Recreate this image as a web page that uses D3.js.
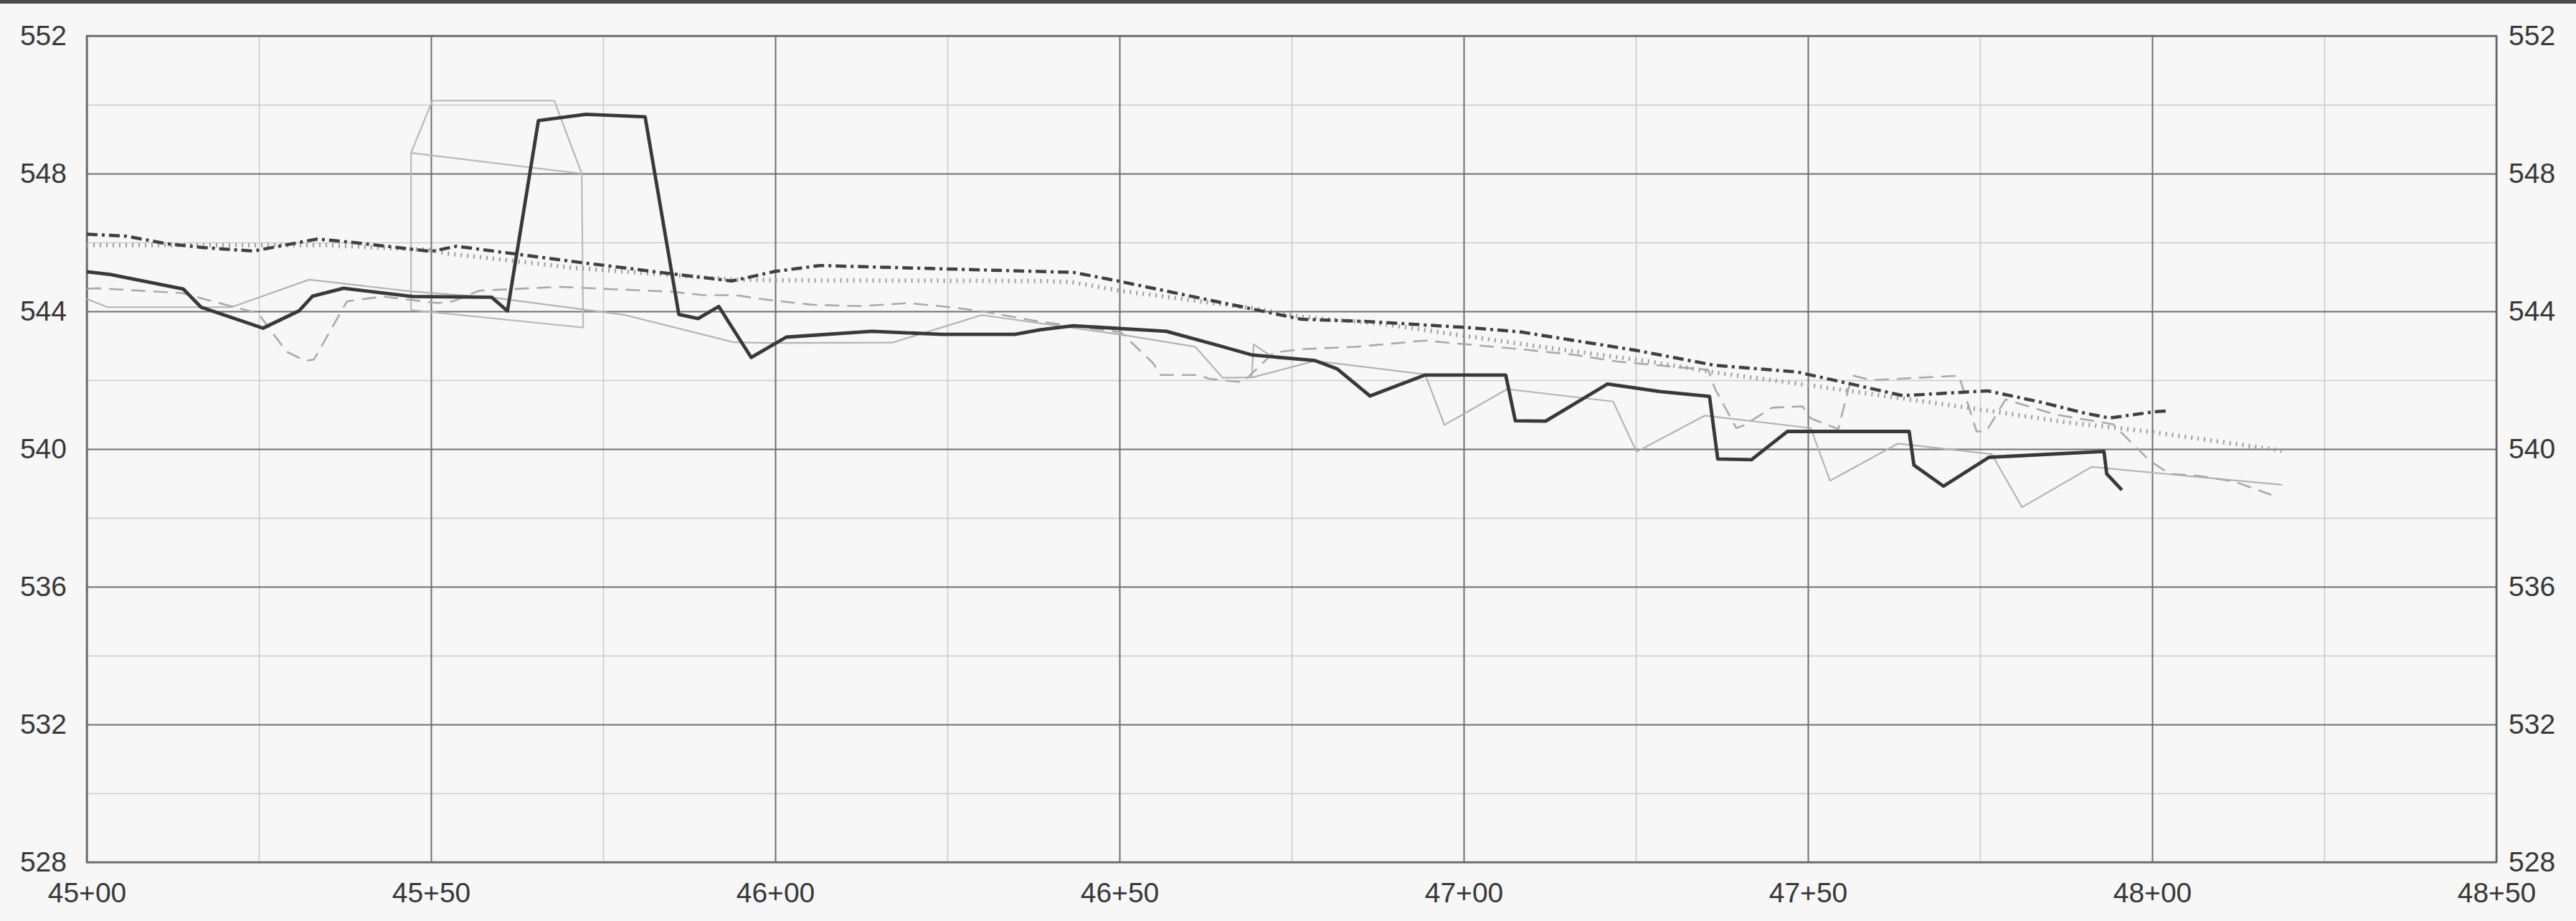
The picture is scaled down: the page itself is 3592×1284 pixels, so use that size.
<!DOCTYPE html>
<html>
<head>
<meta charset="utf-8">
<script src="https://cdn.jsdelivr.net/npm/d3@7"></script>
<style>
  html, body { margin: 0; padding: 0; background: #f6f7f6; }
  svg { display: block; }
</style>
</head>
<body>
<svg id="chart" width="3592" height="1284"></svg>
<script>
// ---------- data (station in feet, elevation) ----------
const stationTicks = [4500, 4550, 4600, 4650, 4700, 4750, 4800, 4850];
const stationMinor = [4525, 4575, 4625, 4675, 4725, 4775, 4825];
const elevTicks = [528, 532, 536, 540, 544, 548, 552];
const elevMinor = [530, 534, 538, 542, 546, 550];

// thick dark solid profile
const mainProfile = [
  [4500, 545.15], [4503.4, 545.07], [4514, 544.65], [4516.6, 544.12], [4525.6, 543.51],
  [4530.8, 544.01], [4532.8, 544.44], [4537.3, 544.67], [4547.3, 544.43], [4558.8, 544.41],
  [4561.1, 544.01], [4565.6, 549.54], [4572.5, 549.72], [4581.1, 549.65], [4586, 543.91],
  [4588.8, 543.79], [4591.8, 544.14], [4596.5, 542.66], [4601.6, 543.25], [4614, 543.42],
  [4624.2, 543.33], [4634.8, 543.33], [4638.4, 543.46], [4643.3, 543.58], [4656.8, 543.42],
  [4664.5, 543.0], [4669.3, 542.73], [4678.4, 542.57], [4681.6, 542.33], [4686.4, 541.54],
  [4694.4, 542.15], [4706.1, 542.15], [4707.5, 540.82], [4711.9, 540.81], [4720.9, 541.89],
  [4728.5, 541.67], [4735.7, 541.53], [4736.9, 539.71], [4741.8, 539.69], [4747, 540.51],
  [4764.7, 540.51], [4765.4, 539.53], [4769.7, 538.92], [4776.3, 539.76], [4793, 539.93],
  [4793.4, 539.28], [4795.6, 538.81]
];

// dash-dot dark line
const dashDotProfile = [
  [4500, 546.24], [4505.8, 546.18], [4511.7, 545.96], [4517, 545.85], [4524.2, 545.75],
  [4533.5, 546.1], [4539.6, 545.98], [4550, 545.74], [4553.7, 545.89], [4570.9, 545.44],
  [4584.9, 545.09], [4593.7, 544.88], [4600, 545.16], [4606.5, 545.33], [4643.3, 545.13],
  [4649.8, 544.88], [4669.7, 544.05], [4676.4, 543.77], [4686.4, 543.7], [4700.4, 543.53],
  [4708.3, 543.4], [4724.9, 542.87], [4736.5, 542.43], [4748.4, 542.24], [4763.8, 541.55],
  [4776.1, 541.69], [4784.3, 541.34], [4789.8, 541.06], [4793.8, 540.9], [4800.2, 541.08],
  [4802.2, 541.11]
];

// dotted gray line
const dottedProfile = [
  [4500, 545.92], [4535, 545.92], [4550, 545.78], [4552.3, 545.68], [4570.9, 545.26],
  [4594.2, 544.92], [4602, 544.9], [4638.5, 544.88], [4643, 544.85], [4650, 544.6],
  [4669.7, 544.08], [4676.4, 543.84], [4688.4, 543.63], [4700.4, 543.28], [4712.3, 542.94],
  [4727, 542.54], [4736.9, 542.21], [4750, 541.86], [4764.7, 541.44], [4776.7, 541.1],
  [4787.4, 540.78], [4800.2, 540.49], [4819, 539.95]
];

// dashed gray line
const dashedProfile = [
  [4500, 544.65], [4501.6, 544.67], [4513.8, 544.53], [4524.9, 543.94], [4529, 542.83],
  [4531.7, 542.56], [4533, 542.6], [4537.8, 544.29], [4543, 544.43], [4550.9, 544.24],
  [4553.2, 544.29], [4557, 544.6], [4568.6, 544.71], [4584.9, 544.57], [4589.5, 544.47],
  [4594.2, 544.47], [4599, 544.33], [4605.4, 544.19], [4612.4, 544.15], [4619.4, 544.24],
  [4626.3, 544.1], [4630, 544.0], [4638.4, 543.7], [4650.2, 543.39], [4654.9, 542.49],
  [4656, 542.15], [4661.6, 542.15], [4663, 542.04], [4667.9, 541.94], [4672.4, 542.8],
  [4676.4, 542.9], [4684.4, 542.97], [4688.4, 543.04], [4694.4, 543.15], [4700.4, 543.04],
  [4704.3, 542.97], [4708.3, 542.9], [4716.3, 542.73], [4722.3, 542.54], [4735.5, 542.3],
  [4736.5, 541.75], [4739.6, 540.61], [4740.6, 540.68], [4744.8, 541.2], [4749.2, 541.24],
  [4750.4, 540.89], [4754.4, 540.58], [4756.4, 542.14], [4759.2, 542.0], [4771.9, 542.13],
  [4772.3, 541.9], [4774.5, 540.51], [4775.9, 540.51], [4778.7, 541.44], [4786, 541.0],
  [4794.3, 540.72], [4799.6, 539.67], [4802.5, 539.28], [4806.8, 539.22], [4812, 539.05],
  [4816.3, 538.74], [4817.3, 538.67]
];

// thin light gray solid line
const thinProfile = [
  [4500, 544.36], [4503, 544.12], [4521, 544.12], [4532.3, 544.92], [4547, 544.58],
  [4559, 544.4], [4578, 543.9], [4594, 543.1], [4598.8, 543.08], [4617, 543.09],
  [4630, 543.89], [4650.3, 543.32], [4661, 542.97], [4665, 542.07], [4669.3, 542.08],
  [4678.4, 542.56], [4694.4, 542.17], [4697.2, 540.7], [4706.3, 541.74], [4721.7, 541.38],
  [4725.1, 539.92], [4735, 540.97], [4750.4, 540.61], [4753.2, 539.08], [4763.1, 540.16],
  [4776.7, 539.85], [4781.1, 538.31], [4791.2, 539.48], [4818.9, 538.96]
];

// thin gray spike near 46+69
const thinSpike = [[4669.2, 542.08], [4669.5, 543.04], [4672, 542.7]];

// thin gray box outline near 45+50 .. 45+72
const boxOutline = [
  [4547.1, 548.6], [4571.9, 548.0], [4572.1, 543.53], [4547.1, 544.04], [4547.1, 548.6],
  [4550.2, 550.12], [4567.9, 550.12], [4571.9, 548.0]
];

// ---------- layout ----------
const svg = d3.select("#chart");
const W = 3592, H = 1284;
const mLeft = 121, mRight = 3481, mTop = 50, mBottom = 1202;

svg.append("rect").attr("width", W).attr("height", H).attr("fill", "#f6f7f6");
// scanned dark edge at the very top
svg.append("rect").attr("x", 0).attr("y", 0).attr("width", W).attr("height", 5).attr("fill", "#4a4b48");

const x = d3.scaleLinear().domain([4500, 4850]).range([mLeft, mRight]);
const y = d3.scaleLinear().domain([528, 552]).range([mBottom, mTop]);

const stationFmt = d => Math.floor(d / 100) + "+" + String(d % 100).padStart(2, "0");

// minor grid
svg.append("g").attr("transform", `translate(0,${mBottom})`)
  .call(d3.axisBottom(x).tickValues(stationMinor).tickSize(-(mBottom - mTop)).tickFormat(""))
  .call(g => g.select(".domain").remove())
  .call(g => g.selectAll("line").attr("stroke", "#cbcccb").attr("stroke-width", 1.6));
svg.append("g").attr("transform", `translate(${mLeft},0)`)
  .call(d3.axisLeft(y).tickValues(elevMinor).tickSize(-(mRight - mLeft)).tickFormat(""))
  .call(g => g.select(".domain").remove())
  .call(g => g.selectAll("line").attr("stroke", "#cbcccb").attr("stroke-width", 1.6));

// major grid
svg.append("g").attr("transform", `translate(0,${mBottom})`)
  .call(d3.axisBottom(x).tickValues(stationTicks).tickSize(-(mBottom - mTop)).tickFormat(""))
  .call(g => g.select(".domain").remove())
  .call(g => g.selectAll("line").attr("stroke", "#6f706f").attr("stroke-width", 2));
svg.append("g").attr("transform", `translate(${mLeft},0)`)
  .call(d3.axisLeft(y).tickValues(elevTicks).tickSize(-(mRight - mLeft)).tickFormat(""))
  .call(g => g.select(".domain").remove())
  .call(g => g.selectAll("line").attr("stroke", "#6f706f").attr("stroke-width", 2));

// plot border
svg.append("rect").attr("x", mLeft).attr("y", mTop).attr("width", mRight - mLeft).attr("height", mBottom - mTop)
  .attr("fill", "none").attr("stroke", "#666766").attr("stroke-width", 2.5);

// labels
const fontFam = "'Liberation Sans', Arial, Helvetica, sans-serif";
const axisTextStyle = g => g.selectAll("text")
  .attr("font-family", fontFam).attr("font-size", 39).attr("fill", "#383838");

svg.append("g").attr("transform", `translate(0,${mBottom})`)
  .call(d3.axisBottom(x).tickValues(stationTicks).tickSize(0).tickPadding(28).tickFormat(stationFmt))
  .call(g => g.select(".domain").remove())
  .call(axisTextStyle);

svg.append("g").attr("transform", `translate(${mLeft},0)`)
  .call(d3.axisLeft(y).tickValues(elevTicks).tickSize(0).tickPadding(28).tickFormat(d3.format("d")))
  .call(g => g.select(".domain").remove())
  .call(axisTextStyle);

svg.append("g").attr("transform", `translate(${mRight},0)`)
  .call(d3.axisRight(y).tickValues(elevTicks).tickSize(0).tickPadding(17).tickFormat(d3.format("d")))
  .call(g => g.select(".domain").remove())
  .call(axisTextStyle);

// ---------- series ----------
const line = d3.line().x(d => x(d[0])).y(d => y(d[1]));
const plot = svg.append("g");

const draw = (data, stroke, width, dash) => {
  const p = plot.append("path").datum(data).attr("d", line)
    .attr("fill", "none").attr("stroke", stroke).attr("stroke-width", width)
    .attr("stroke-linejoin", "round");
  if (dash) p.attr("stroke-dasharray", dash);
  return p;
};

draw(boxOutline, "#b9bab9", 2.2);
draw(thinProfile, "#b3b4b3", 2.2);
draw(thinSpike, "#b3b4b3", 2.2);
draw(dashedProfile, "#a9aaa9", 2.6, "20,11");
draw(dottedProfile, "#9c9d9c", 6, "2,7");
draw(dashDotProfile, "#3f403f", 4.5, "15,6,4,6");
draw(mainProfile, "#383938", 4.8);
</script>
</body>
</html>
